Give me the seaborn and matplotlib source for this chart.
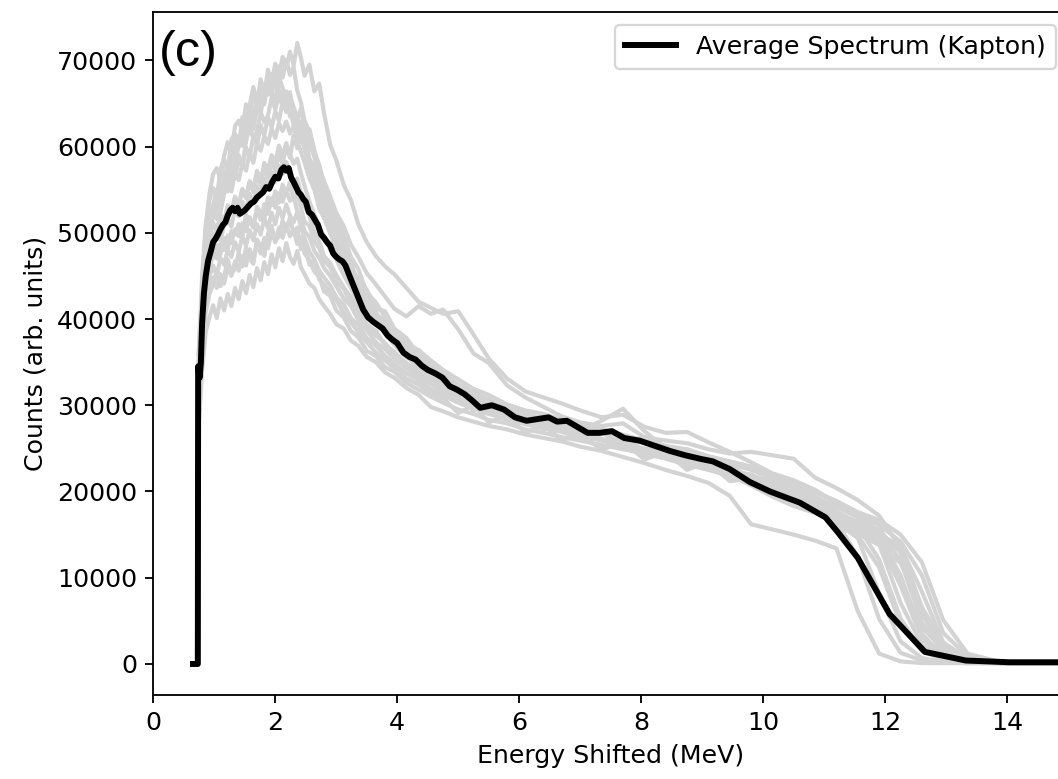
import pandas as pd
import matplotlib
matplotlib.use("Agg")
import matplotlib.pyplot as plt
import seaborn as sns

# energy grid (MeV) shared by the individual spectra
energy = [0.74, 0.8, 0.86, 0.92, 0.98, 1.04, 1.1, 1.16, 1.22, 1.28, 1.34, 1.4,
          1.46, 1.52, 1.58, 1.64, 1.7, 1.76, 1.82, 1.88, 1.94, 2.0, 2.06, 2.12,
          2.18, 2.24, 2.3, 2.36, 2.42, 2.48, 2.56, 2.64, 2.72, 2.8,
          2.9, 3.0, 3.12, 3.24, 3.36, 3.5, 3.65, 3.8, 3.95, 4.15, 4.35, 4.55, 4.75,
          5.0, 5.25, 5.5, 5.8, 6.1, 6.4, 6.7, 7.0,
          7.35, 7.7, 8.05, 8.4, 8.75, 9.1, 9.45, 9.8, 10.15, 10.5,
          10.85, 11.2, 11.55, 11.9, 12.25, 12.6, 12.95, 13.35, 13.9, 14.5, 15.0]

# individual spectra, counts in thousands
spec_01 = [35, 45, 51, 54.5, 56.8, 57.5, 56.2, 58.9, 60.5, 59.1, 62.4, 63.0,
           61.8, 64.9, 63.7, 66.2, 65.0, 67.8, 66.1, 68.9, 67.5, 69.6, 68.2, 70.4,
           69.1, 71.0, 69.4, 72.0, 70.3, 68.2, 69.5, 66.4, 67.3, 63.8,
           60.2, 58.4, 55.6, 53.8, 51.0, 48.9, 47.3, 46.1, 45.2, 43.6, 42.0, 41.3, 40.6,
           40.9, 38.2, 35.4, 33.1, 31.6, 30.9, 30.2, 29.4,
           28.6, 28.9, 27.5, 26.8, 26.9, 25.7, 24.6, 23.4, 22.1, 21.3,
           20.2, 18.6, 17.1, 16.2, 9.5, 4.2, 1.8, 0.6, 0.2, 0.1, 0.1]
spec_02 = [31, 42, 48.5, 51.6, 53.2, 55.0, 54.1, 56.6, 57.8, 56.9, 59.5, 61.2,
           60.1, 62.8, 64.4, 63.1, 66.0, 64.7, 67.2, 66.0, 68.4, 67.1, 69.3, 68.0,
           70.1, 68.3, 69.2, 66.5, 65.1, 63.0, 61.7, 59.4, 57.9, 55.6,
           53.1, 51.8, 49.6, 47.2, 45.8, 43.1, 41.9, 40.2, 38.8, 37.1, 36.4, 35.2, 34.1,
           33.0, 31.9, 31.2, 30.1, 29.4, 29.0, 28.3, 27.6,
           27.0, 26.2, 25.7, 25.0, 24.2, 23.1, 22.7, 21.6, 21.0, 19.8,
           18.9, 17.4, 16.0, 12.1, 5.3, 1.6, 0.5, 0.2, 0.1, 0.1, 0.1]
spec_03 = [30, 41, 47, 50.3, 52.9, 53.4, 55.8, 54.6, 57.1, 58.8, 57.6, 60.3,
           61.9, 60.5, 63.3, 62.0, 64.6, 66.1, 64.9, 67.4, 66.0, 68.3, 66.5, 65.0,
           66.4, 64.1, 62.6, 63.5, 61.0, 59.8, 57.2, 56.0, 53.7, 52.4,
           51.0, 49.3, 47.0, 45.4, 43.9, 42.0, 40.4, 39.7, 38.1, 36.9, 35.3, 34.8, 33.6,
           32.4, 31.6, 30.4, 29.8, 28.9, 28.4, 27.9, 27.1,
           27.4, 25.6, 26.3, 24.1, 24.6, 22.7, 22.9, 21.0, 20.8, 19.5,
           18.2, 16.9, 15.1, 13.8, 11.7, 6.2, 1.9, 0.4, 0.1, 0.1, 0.1]
spec_04 = [33, 43, 49, 52.0, 52.6, 54.3, 53.5, 55.9, 55.0, 57.4, 56.3, 58.6,
           57.7, 59.9, 58.8, 61.2, 60.1, 62.5, 61.3, 63.4, 62.2, 64.1, 63.0, 65.2,
           64.0, 65.9, 64.6, 63.2, 64.4, 61.9, 60.3, 58.8, 56.1, 54.5,
           52.2, 50.8, 48.4, 46.5, 44.1, 42.6, 40.8, 39.1, 37.6, 36.2, 34.9, 33.5, 32.7,
           31.5, 30.8, 30.1, 29.6, 28.7, 28.1, 27.3, 26.9,
           26.1, 25.5, 24.8, 24.3, 23.5, 22.8, 21.9, 20.7, 19.4, 18.3,
           17.5, 16.4, 14.6, 8.2, 2.6, 0.7, 0.2, 0.1, 0.1, 0.1, 0.1]
spec_05 = [29, 39, 45.5, 48.0, 49.6, 50.3, 52.1, 51.2, 53.0, 52.4, 54.2, 53.3,
           55.1, 54.2, 56.0, 55.1, 57.2, 56.0, 58.1, 57.3, 59.0, 58.2, 60.1, 59.0,
           60.4, 59.1, 58.0, 58.6, 56.9, 55.4, 53.6, 52.1, 50.7, 49.6,
           48.0, 46.9, 45.1, 43.6, 41.8, 40.6, 39.3, 38.4, 37.0, 35.6, 34.6, 33.4, 32.4,
           31.1, 29.4, 30.2, 28.1, 28.9, 27.2, 28.0, 26.3,
           27.0, 25.1, 25.9, 24.0, 24.8, 22.6, 23.1, 20.8, 20.7, 19.2,
           18.3, 17.0, 15.4, 13.9, 7.1, 2.2, 0.6, 0.2, 0.1, 0.1, 0.1]
spec_06 = [32, 40, 46.0, 47.6, 48.9, 49.8, 49.1, 50.9, 51.6, 50.7, 52.8, 51.9,
           53.6, 52.6, 54.5, 53.5, 55.4, 54.6, 56.3, 55.2, 57.0, 55.9, 57.8, 56.8,
           58.2, 57.0, 55.6, 56.3, 54.6, 53.1, 51.9, 50.1, 49.0, 47.3,
           46.5, 45.1, 43.7, 42.5, 40.8, 39.0, 38.1, 37.2, 36.0, 34.9, 33.6, 32.8, 31.7,
           30.8, 29.9, 29.0, 28.6, 28.0, 27.5, 27.0, 26.5,
           25.9, 25.4, 24.9, 24.4, 23.6, 22.9, 22.0, 21.1, 20.3, 19.4,
           18.1, 16.6, 12.4, 5.2, 1.3, 0.4, 0.2, 0.1, 0.1, 0.1, 0.1]
spec_07 = [28, 37, 42.0, 43.5, 44.8, 43.6, 45.2, 44.1, 46.0, 45.0, 46.7, 45.6,
           47.3, 46.2, 48.1, 46.9, 48.8, 47.6, 49.4, 48.2, 50.1, 48.9, 50.6, 49.4,
           51.0, 49.6, 50.3, 48.7, 49.5, 47.6, 46.8, 45.5, 44.9, 43.2,
           42.7, 41.0, 40.2, 38.6, 37.9, 36.3, 35.7, 34.4, 33.9, 32.6, 31.8, 31.0, 30.3,
           29.5, 29.0, 28.3, 27.9, 27.2, 26.8, 26.3, 25.9,
           25.4, 24.9, 24.4, 23.8, 23.1, 22.5, 21.8, 20.9, 20.2, 19.1,
           17.8, 16.1, 14.9, 11.2, 4.6, 1.5, 0.5, 0.2, 0.1, 0.1, 0.1]
spec_08 = [27, 34, 38.5, 40.2, 41.6, 40.1, 42.4, 41.0, 42.9, 41.5, 43.6, 42.3,
           44.4, 43.0, 45.1, 43.7, 45.9, 44.5, 46.6, 45.2, 47.5, 46.0, 48.2, 46.7,
           48.8, 47.2, 46.4, 47.9, 46.0, 45.2, 44.1, 43.6, 42.3, 41.5,
           40.6, 39.4, 38.9, 37.5, 36.9, 35.6, 35.0, 33.8, 33.2, 32.0, 31.2, 29.8, 29.3,
           28.6, 28.1, 27.6, 27.2, 26.6, 26.2, 25.8, 25.2,
           24.7, 24.0, 23.3, 22.5, 21.8, 21.0, 19.5, 16.2, 15.6, 15.0,
           14.3, 13.4, 6.1, 1.2, 0.3, 0.1, 0.1, 0.1, 0.1, 0.1, 0.1]
spec_09 = [30, 38, 42.8, 44.9, 46.2, 45.0, 47.1, 46.3, 48.0, 47.2, 48.9, 47.8,
           49.6, 48.5, 50.3, 49.1, 51.0, 49.8, 51.7, 50.5, 52.3, 51.0, 52.9, 51.7,
           53.3, 52.0, 51.2, 52.4, 50.6, 49.4, 47.8, 46.9, 45.6, 44.8,
           43.9, 42.5, 41.7, 40.1, 39.3, 37.8, 36.9, 35.7, 34.8, 33.7, 32.9, 31.9, 31.1,
           30.3, 29.6, 29.0, 28.4, 27.8, 27.3, 26.9, 26.2,
           25.1, 26.2, 24.0, 24.9, 22.8, 23.4, 21.2, 21.5, 19.4, 19.9,
           17.9, 16.8, 15.7, 14.8, 10.3, 3.5, 0.9, 0.2, 0.1, 0.1, 0.1]
spec_10 = [34, 42, 47.5, 50.8, 51.9, 53.0, 52.3, 54.5, 55.6, 54.8, 56.9, 56.1,
           58.0, 57.2, 59.3, 58.1, 60.4, 59.5, 61.2, 60.3, 62.1, 61.0, 62.7, 61.8,
           62.9, 61.5, 62.4, 60.6, 59.4, 58.1, 56.3, 55.0, 52.8, 51.7,
           49.9, 48.1, 46.3, 44.8, 43.2, 41.3, 40.0, 38.6, 37.4, 35.7, 34.3, 33.1, 32.2,
           31.3, 30.4, 29.7, 29.2, 28.5, 27.9, 27.5, 27.0,
           28.2, 29.6, 27.0, 25.0, 24.4, 23.8, 23.2, 22.5, 21.6, 20.6,
           19.4, 18.2, 17.0, 15.5, 12.9, 5.8, 1.7, 0.4, 0.1, 0.1, 0.1]
spec_11 = [31, 39, 44.0, 46.5, 47.8, 47.0, 48.7, 48.0, 49.7, 48.8, 50.4, 49.6,
           51.1, 50.2, 51.8, 50.9, 52.6, 51.5, 53.3, 52.2, 54.0, 52.9, 54.6, 53.6,
           55.0, 53.7, 54.3, 52.5, 51.8, 50.2, 49.5, 47.9, 47.1, 45.9,
           45.0, 43.8, 42.4, 41.5, 39.9, 38.7, 37.3, 36.5, 35.4, 34.3, 33.3, 32.5, 31.5,
           30.6, 29.8, 29.3, 28.8, 28.1, 27.7, 27.2, 26.6,
           26.0, 25.6, 25.0, 24.5, 23.9, 23.2, 22.6, 21.9, 21.2, 20.1,
           19.0, 17.7, 16.3, 15.1, 13.6, 8.4, 2.5, 0.6, 0.1, 0.1, 0.1]
spec_12 = [36, 43, 48.2, 49.5, 51.2, 50.1, 52.0, 51.3, 53.2, 52.3, 54.0, 53.1,
           55.0, 54.0, 55.8, 54.7, 56.6, 55.6, 57.5, 56.4, 58.3, 57.1, 59.2, 58.0,
           60.1, 58.7, 61.3, 59.8, 62.4, 61.0, 62.0, 59.6, 57.4, 56.0,
           54.2, 52.3, 50.8, 48.6, 47.2, 45.3, 44.0, 42.6, 41.2, 40.3, 41.5, 40.6, 41.1,
           38.8, 36.0, 34.9, 32.3, 30.9, 29.8, 28.7, 28.0,
           27.6, 27.9, 26.3, 25.9, 25.6, 24.9, 24.4, 24.6, 24.2, 23.8,
           21.6, 20.4, 19.0, 17.2, 13.4, 6.6, 2.4, 0.6, 0.2, 0.1, 0.1]
spec_13 = [32, 44, 50.5, 53.8, 55.2, 54.1, 57.3, 58.6, 57.0, 60.8, 61.5, 59.9,
           63.4, 62.7, 64.8, 66.9, 65.2, 63.8, 66.5, 67.9, 66.2, 65.4, 68.1, 66.8,
           64.9, 66.3, 63.1, 61.8, 62.9, 59.7, 58.2, 56.9, 54.1, 53.2,
           51.4, 49.0, 47.9, 45.1, 44.3, 41.9, 40.5, 39.8, 37.9, 36.6, 35.9, 34.2, 33.8,
           32.0, 31.4, 30.7, 29.5, 29.1, 28.2, 27.8, 27.3,
           26.9, 26.3, 25.9, 25.2, 24.7, 23.9, 23.4, 22.6, 21.9, 20.9,
           19.9, 18.8, 17.4, 16.1, 14.2, 10.3, 3.6, 0.9, 0.2, 0.1, 0.1]
spec_14 = [29, 36, 40.8, 42.9, 44.0, 45.6, 43.8, 44.9, 46.9, 45.3, 45.8, 47.7,
           46.1, 48.3, 47.0, 46.4, 49.2, 48.5, 47.3, 49.9, 50.8, 49.0, 49.6, 51.4,
           50.2, 51.8, 49.9, 50.6, 48.1, 48.8, 46.3, 46.9, 44.6, 44.0,
           43.1, 42.2, 40.7, 39.6, 38.5, 37.3, 36.1, 35.2, 34.3, 33.1, 32.4, 31.4, 30.8,
           29.1, 30.0, 28.0, 28.9, 26.8, 27.7, 25.9, 26.8,
           24.8, 25.9, 23.7, 24.6, 22.5, 23.5, 21.4, 22.0, 20.1, 20.4,
           18.6, 17.3, 15.9, 14.2, 9.1, 2.9, 0.8, 0.2, 0.1, 0.1, 0.1]
spec_15 = [33, 41, 47.2, 49.1, 52.4, 51.6, 53.9, 56.1, 54.8, 55.7, 58.4, 59.0,
           57.6, 60.7, 62.3, 60.9, 61.8, 64.0, 62.8, 63.6, 65.7, 64.3, 66.0, 64.6,
           65.8, 63.5, 64.1, 62.0, 60.5, 61.2, 58.6, 57.4, 55.2, 53.0,
           52.0, 50.1, 48.8, 46.0, 44.6, 43.4, 41.2, 40.9, 38.9, 37.8, 35.8, 34.7, 33.2,
           32.2, 31.0, 30.5, 29.6, 28.8, 28.6, 27.7, 27.4,
           27.2, 26.6, 25.9, 25.3, 24.9, 24.1, 23.5, 22.9, 22.0, 21.1,
           20.0, 18.9, 17.6, 16.7, 15.0, 11.8, 5.1, 1.2, 0.2, 0.1, 0.1]
spec_16 = [30, 40, 45.1, 45.9, 47.3, 48.6, 47.5, 49.4, 48.1, 50.2, 49.8, 51.0,
           49.7, 52.1, 51.4, 50.6, 53.0, 52.3, 51.7, 54.1, 53.2, 54.8, 53.5, 55.6,
           54.4, 55.9, 53.8, 54.7, 52.9, 51.3, 50.8, 49.0, 48.2, 46.8,
           46.0, 44.4, 43.5, 41.8, 41.2, 39.4, 38.6, 37.0, 36.2, 34.8, 34.1, 32.9, 32.3,
           31.2, 30.6, 29.8, 29.2, 28.5, 27.9, 27.6, 26.9,
           26.9, 25.2, 26.0, 24.1, 24.9, 23.0, 23.3, 21.2, 21.4, 19.6,
           18.7, 17.5, 16.5, 15.3, 12.0, 4.8, 1.3, 0.3, 0.1, 0.1, 0.1]

# average spectrum, counts in thousands
avg_energy = [0.65, 0.73, 0.735, 0.76, 0.78, 0.80, 0.83, 0.86, 0.90, 0.94, 0.98,
              1.02, 1.06, 1.10, 1.14, 1.18, 1.22, 1.26, 1.30, 1.34, 1.38, 1.42,
              1.46, 1.50, 1.55, 1.60, 1.65, 1.70, 1.75, 1.80, 1.85, 1.90, 1.95,
              2.00, 2.05, 2.10, 2.14, 2.18, 2.22, 2.26, 2.30, 2.34, 2.38, 2.42,
              2.46, 2.50, 2.55, 2.60, 2.65, 2.70, 2.75, 2.80, 2.85, 2.90, 2.95,
              3.00, 3.05, 3.10, 3.15, 3.20, 3.28, 3.36, 3.44, 3.52, 3.60, 3.68,
              3.76, 3.84, 3.92, 4.00, 4.10, 4.20, 4.30, 4.40, 4.50, 4.62, 4.74,
              4.86, 4.98, 5.10, 5.22, 5.36, 5.55, 5.75, 5.93, 6.12, 6.30, 6.48,
              6.62, 6.78, 6.95, 7.12, 7.32, 7.52, 7.72, 7.97, 8.22, 8.47, 8.72,
              8.96, 9.17, 9.45, 9.78, 10.11, 10.60, 11.02, 11.22, 11.55, 12.07,
              12.65, 13.32, 14.03, 15.0]
avg_counts = [0, 0, 34.5, 33.2, 35.0, 39.5, 43.0, 45.0, 46.8, 47.8, 48.9,
              49.3, 49.8, 50.4, 50.9, 51.2, 52.0, 52.6, 52.9, 52.5, 52.9, 52.2,
              52.4, 52.6, 53.0, 53.4, 53.6, 54.1, 54.4, 54.7, 55.3, 55.1, 55.9,
              56.5, 56.3, 57.3, 57.6, 57.2, 57.5, 56.4, 55.9, 55.3, 54.7, 54.4,
              53.9, 53.6, 52.4, 52.1, 51.5, 50.9, 49.8, 49.4, 48.9, 48.5, 47.6,
              47.2, 46.9, 46.7, 46.2, 45.3, 43.9, 42.5, 41.1, 40.2, 39.7, 39.3,
              38.9, 38.1, 37.6, 37.2, 36.1, 35.6, 35.3, 34.6, 34.1, 33.7, 33.2,
              32.2, 31.8, 31.3, 30.6, 29.7, 30.0, 29.5, 28.6, 28.2, 28.4, 28.6,
              28.1, 28.2, 27.5, 26.8, 26.8, 27.0, 26.2, 25.9, 25.3, 24.7, 24.2,
              23.8, 23.5, 22.6, 21.1, 20.0, 18.7, 17.0, 15.3, 12.3, 5.8,
              1.4, 0.4, 0.2, 0.2]

spectra = [spec_01, spec_02, spec_03, spec_04, spec_05, spec_06, spec_07, spec_08,
           spec_09, spec_10, spec_11, spec_12, spec_13, spec_14, spec_15, spec_16]

# long table for seaborn
rows = []
for i, s in enumerate(spectra):
    assert len(s) == len(energy), (i, len(s))
    for e, c in zip(energy, s):
        rows.append({"energy": e, "counts": c * 1000, "run": i})
df = pd.DataFrame(rows)

avg = pd.DataFrame({"energy": avg_energy, "counts": [c * 1000 for c in avg_counts]})

plt.rcParams["font.size"] = 11

fig = plt.figure(figsize=(1058 / 165, 779 / 165), dpi=165)
ax = fig.add_axes([0.1449, 0.1078, 0.8648, 0.8768])

# individual spectra in light grey
sns.lineplot(data=df, x="energy", y="counts", units="run", estimator=None,
             color="lightgray", linewidth=1.8, sort=False, legend=False, ax=ax)

# average spectrum
sns.lineplot(data=avg, x="energy", y="counts", color="black", linewidth=2.6,
             sort=False, label="Average Spectrum (Kapton)", ax=ax)

ax.set_xlim(0, 15)
ax.set_xlabel("Energy Shifted (MeV)")
ax.set_ylabel("Counts (arb. units)")
ax.legend(loc="upper right")

# panel label
ax.text(0.006, 0.974, "(c)", transform=ax.transAxes, fontsize=22,
        family=["Liberation Sans", "DejaVu Sans"], ha="left", va="top")

fig.savefig("out.png", dpi=165)
